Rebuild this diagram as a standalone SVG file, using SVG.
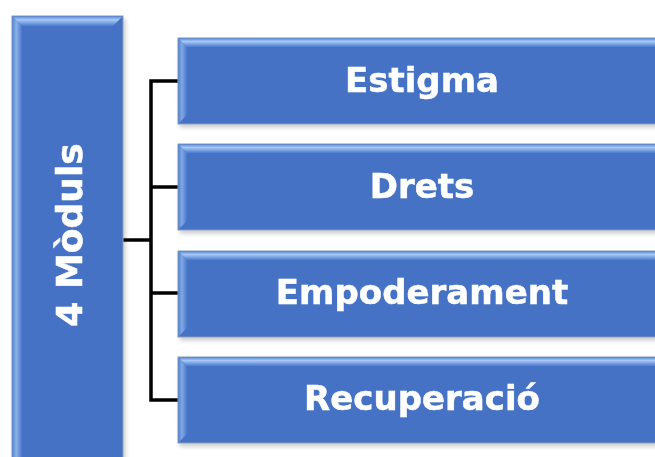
<svg xmlns="http://www.w3.org/2000/svg" width="655" height="457" viewBox="0 0 655 457">
<style>
.box{fill:#4472C4;stroke:#8a9bb8;stroke-width:1}
.lbl{font-family:"DejaVu Sans",Verdana,sans-serif;font-weight:bold;fill:#ffffff;stroke:#ffffff;stroke-width:0.5;font-size:34px;text-anchor:middle}
.conn{fill:none;stroke:#000;stroke-width:3.5}
</style>
<defs>
<linearGradient id="topH" x1="0" y1="0" x2="0" y2="1">
<stop offset="0" stop-color="#5b8ee0"/>
<stop offset="0.35" stop-color="#a9c8f5"/>
<stop offset="1" stop-color="#4a7cd0"/>
</linearGradient>
<linearGradient id="leftH" x1="0" y1="0" x2="1" y2="0">
<stop offset="0" stop-color="#5a8ddd"/>
<stop offset="0.4" stop-color="#9cc0f2"/>
<stop offset="1" stop-color="#4a7bcf"/>
</linearGradient>
<filter id="sh" x="-10%" y="-10%" width="130%" height="130%">
<feGaussianBlur in="SourceAlpha" stdDeviation="2"/>
<feOffset dx="2" dy="3"/>
<feComponentTransfer><feFuncA type="linear" slope="0.2"/></feComponentTransfer>
<feMerge><feMergeNode/><feMergeNode in="SourceGraphic"/></feMerge>
</filter>
<g id="bevelR">
<rect x="0" y="0" width="490" height="86" class="box"/>
<polygon points="0.5,0.5 489.5,0.5 480,9 9,9" fill="url(#topH)"/>
<polygon points="0.5,0.5 9,9 9,77 0.5,85.5" fill="url(#leftH)" opacity="0.7"/>
</g>
</defs>
<g id="connectors">
<polyline class="conn" points="178,81 151,81 151,400 178,400"/>
<line class="conn" x1="151" y1="187" x2="178" y2="187"/>
<line class="conn" x1="151" y1="293" x2="178" y2="293"/>
<line class="conn" x1="123" y1="240" x2="151" y2="240"/>
</g>
<g id="modules" filter="url(#sh)">
<rect x="12" y="16" width="111" height="450" class="box"/>
<polygon points="12.5,16.5 122.5,16.5 113,26 22,26" fill="url(#topH)"/>
<polygon points="12.5,16.5 22,26 22,466 12.5,466" fill="url(#leftH)" opacity="0.8"/>
<text class="lbl" transform="translate(82,235) rotate(-90)" style="font-size:36px">4 Mòduls</text>
</g>
<g id="estigma" filter="url(#sh)">
<use href="#bevelR" x="178" y="38"/>
<text class="lbl" x="422" y="92">Estigma</text>
</g>
<g id="drets" filter="url(#sh)">
<use href="#bevelR" x="178" y="144"/>
<text class="lbl" x="422" y="198">Drets</text>
</g>
<g id="empoderament" filter="url(#sh)">
<use href="#bevelR" x="178" y="251"/>
<text class="lbl" x="422" y="304">Empoderament</text>
</g>
<g id="recuperacio" filter="url(#sh)">
<use href="#bevelR" x="178" y="357"/>
<text class="lbl" x="422" y="410">Recuperació</text>
</g>
</svg>
